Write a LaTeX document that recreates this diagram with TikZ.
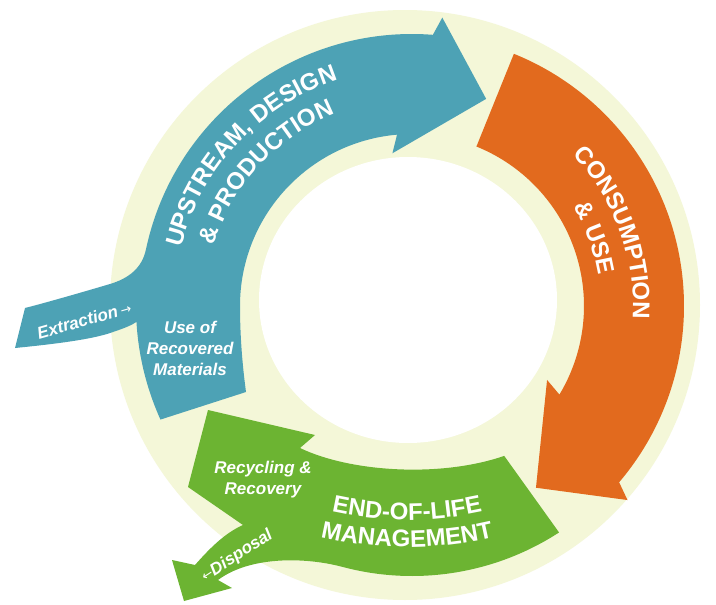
\documentclass[tikz,border=0pt]{standalone}
\usepackage{fontspec}
\setmainfont{Liberation Sans}
\newfontfamily\arrfont{DejaVu Sans}
\usetikzlibrary{calc,decorations.text}
\definecolor{ringc}{HTML}{F4F7D8}
\definecolor{bluec}{HTML}{4DA2B5}
\definecolor{orangec}{HTML}{E26A1E}
\definecolor{greenc}{HTML}{6CB432}
\newcommand\mylabfont{\fontsize{24}{24}\selectfont\bfseries}
\begin{document}
\begin{tikzpicture}[x=1pt,y=-1pt,
  ctext/.style={decorate, decoration={text along path, text align=center, text color=white}},
  lbl/.style={text=white, font=\fontsize{17}{21}\selectfont\bfseries\itshape, align=center, inner sep=0pt},
  arrowshape/.style={line join=miter}]
\useasboundingbox (0,0) rectangle (716,605);
\fill[white] (0,0) rectangle (716,605);
\coordinate (A) at (412,306);
\coordinate (G) at (407,170);
% pale ring
\fill[ringc] (405,305) circle[radius=295];
\fill[white] (408,300) ellipse[x radius=149, y radius=143];
% blue arrow
\fill[bluec, arrowshape] (246,392) .. controls (242,362) and (240,334) .. ($(A)+(180:172)$)
  arc[start angle=180, end angle=265, radius=172]
  -- ($(A)+(262.7:154)$) -- ($(A)+(289.7:220)$) -- ($(A)+(276:290)$) -- ($(A)+(274.4:272)$)
  arc[start angle=274.4, end angle=192, radius=272]
  .. controls (142,268.5) and (128,278.6) .. (110,284)
  .. controls (92,289.4) and (45,303) .. (25,308)
  -- (15,348)
  .. controls (45,345) and (92,340) .. (113,332)
  .. controls (125,328) and (132,325) .. ($(A)+(176.7:276)$)
  arc[start angle=176.7, end angle=155.7, radius=276] -- cycle;
% orange arrow
\fill[orangec, arrowshape] ($(A)+(-68:272)$) arc[start angle=-68, end angle=40.4, radius=272]
  -- ($(A)+(42:290)$) -- ($(A)+(55.7:220)$) -- ($(A)+(28.7:154)$) -- ($(A)+(31:172)$)
  arc[start angle=31, end angle=-68, radius=172] -- cycle;
% green arrow
\fill[greenc, arrowshape] ($(A)+(58.4:176)$) -- ($(A)+(57:270)$)
  arc[start angle=57, end angle=105, radius=270]
  .. controls (305,557) and (250,556) .. (218,580)
  -- (232,588) -- (184,601) -- (172,560) -- (195,565)
  .. controls (210,548) and (225,533) .. (243,525)
  -- (188,487) -- (208,410) -- (315,435) -- (300,448)
  .. controls (350,472) and (440,478) .. ($(A)+(58.4:176)$) -- cycle;
% curved titles
\path[ctext, decoration={text={|\mylabfont|UPSTREAM, DESIGN}}]
  ($(A)+(183:238)$) arc[start angle=183, end angle=263, radius=238];
\path[ctext, decoration={text={|\mylabfont|{\&} PRODUCTION}}]
  ($(A)+(182:207)$) arc[start angle=182, end angle=263, radius=207];
\path[ctext, decoration={text={|\mylabfont|CONSUMPTION}}]
  ($(A)+(-60:221)$) arc[start angle=-60, end angle=20, radius=221];
\path[ctext, decoration={text={|\mylabfont|{\&} USE}}]
  ($(A)+(-61:189)$) arc[start angle=-61, end angle=20, radius=189];
\path[ctext, decoration={text={|\mylabfont|END-OF-LIFE}}]
  ($(G)+(112:350)$) arc[start angle=112, end angle=68, radius=350];
\path[ctext, decoration={text={|\mylabfont|MANAGEMENT}}]
  ($(G)+(112:377)$) arc[start angle=112, end angle=68, radius=377];
% small labels
\node[lbl, rotate=16] (ext) at (84,320) {Extraction\,{\arrfont\mdseries\upshape\fontsize{13}{13}\selectfont →}};
\node[lbl] (uom) at (190,348) {Use of\\Recovered\\Materials};
\node[lbl] (rr) at (263,480) {Recycling \&\\Recovery};
\node[lbl, rotate=33] (disp) at (237,556) {{\arrfont\mdseries\upshape\fontsize{13}{13}\selectfont ←}Disposal};
\end{tikzpicture}
\end{document}
